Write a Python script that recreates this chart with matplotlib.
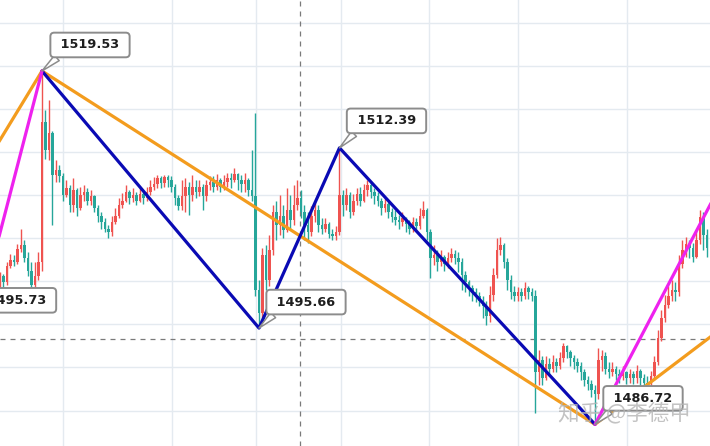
import numpy as np
import matplotlib
matplotlib.use("Agg")
import matplotlib.pyplot as plt

# candle data (red = up, teal = down), one bar per index
first_open = 1499.8
closes = [
    1500.5, 1499.9, 1501.4, 1502.0, 1501.8, 1503.0, 1503.4, 1502.2, 1501.0, 1499.7,
    1500.5, 1501.8, 1514.8, 1512.2, 1513.8, 1509.9, 1510.3, 1509.8, 1508.0, 1508.7,
    1507.1, 1508.5, 1506.8, 1508.0, 1508.3, 1507.5, 1507.9, 1506.8, 1506.1, 1505.5,
    1504.9, 1504.6, 1505.5, 1506.1, 1507.1, 1507.5, 1508.3, 1507.7, 1508.0, 1507.5,
    1508.1, 1507.7, 1508.3, 1508.8, 1509.0, 1509.6, 1509.1, 1509.7, 1509.4, 1508.8,
    1507.7, 1507.0, 1507.9, 1508.8, 1508.0, 1508.8, 1508.3, 1508.8, 1507.9, 1508.9,
    1509.2, 1508.8, 1509.4, 1508.8, 1509.2, 1509.6, 1509.4, 1510.0, 1509.4, 1509.0,
    1509.4, 1508.5, 1507.9, 1499.2, 1497.1, 1502.4, 1500.1, 1502.9, 1506.4, 1505.2,
    1506.1, 1504.8, 1506.6, 1505.7, 1507.1, 1507.7, 1506.4, 1505.2, 1504.6, 1506.1,
    1506.6, 1505.2, 1504.9, 1505.3, 1504.4, 1504.2, 1504.6, 1508.0, 1507.1, 1508.0,
    1506.4, 1507.5, 1508.1, 1507.5, 1508.5, 1508.9, 1508.3, 1507.9, 1507.5, 1506.8,
    1507.2, 1506.4, 1506.0, 1505.7, 1505.5, 1505.9, 1505.3, 1504.9, 1505.5, 1505.1,
    1506.1, 1506.6, 1504.6, 1502.2, 1502.4, 1501.8, 1502.3, 1501.6, 1502.2, 1502.5,
    1502.2, 1501.8, 1500.6, 1499.9, 1499.4, 1499.0, 1498.6, 1498.2, 1497.7, 1496.8,
    1498.7, 1500.6, 1502.9, 1503.4, 1501.8, 1500.1, 1499.0, 1498.6, 1499.0, 1498.6,
    1499.4, 1499.0, 1498.6, 1491.6, 1492.7, 1491.0, 1492.3, 1491.9, 1492.5, 1492.1,
    1492.9, 1494.0, 1493.4, 1492.9, 1492.5, 1492.1, 1491.6, 1490.8, 1490.5, 1489.9,
    1489.5, 1492.7, 1493.1, 1491.9, 1491.6, 1491.9, 1491.4, 1491.2, 1491.6, 1491.0,
    1491.4, 1491.0, 1491.7, 1491.0, 1490.6, 1490.5, 1491.2, 1492.5, 1494.7, 1496.6,
    1497.8, 1498.6, 1499.2, 1499.0, 1501.6, 1502.9, 1503.5, 1503.1, 1502.3, 1503.8,
    1506.0, 1504.3, 1503.1,
]
highs = [
    1500.9, 1500.7, 1501.8, 1502.5, 1502.4, 1503.5, 1504.9, 1503.8, 1502.7, 1501.8,
    1501.8, 1502.7, 1519.53, 1515.9, 1516.8, 1514.0, 1511.3, 1510.8, 1510.1, 1509.4,
    1508.9, 1509.6, 1508.7, 1508.8, 1508.9, 1508.7, 1508.5, 1508.0, 1507.1, 1506.4,
    1505.9, 1505.2, 1506.1, 1506.8, 1507.7, 1508.2, 1508.9, 1508.5, 1508.7, 1508.3,
    1508.7, 1508.5, 1508.8, 1509.4, 1509.7, 1509.9, 1509.8, 1509.9, 1509.9, 1509.8,
    1509.0, 1508.0, 1509.4, 1509.6, 1509.2, 1509.9, 1509.4, 1509.4, 1509.0, 1509.4,
    1509.8, 1509.8, 1510.0, 1509.6, 1509.9, 1510.1, 1510.1, 1510.5, 1510.1, 1509.9,
    1510.1, 1509.6, 1512.2, 1515.6, 1500.1, 1503.1, 1503.4, 1504.3, 1507.1, 1507.5,
    1508.0, 1507.1, 1508.7, 1508.0, 1508.9, 1509.4, 1508.5, 1507.1, 1506.4, 1507.0,
    1507.3, 1507.1, 1505.9, 1505.9, 1505.5, 1504.9, 1505.1, 1512.39, 1508.5, 1508.7,
    1508.3, 1508.1, 1508.7, 1508.8, 1509.0, 1509.4, 1509.2, 1508.7, 1508.3, 1507.7,
    1507.7, 1507.4, 1506.8, 1506.6, 1506.2, 1506.4, 1506.0, 1505.7, 1506.0, 1505.9,
    1506.8, 1507.5, 1506.8, 1504.9, 1503.4, 1502.9, 1502.9, 1502.4, 1502.7, 1503.1,
    1502.9, 1502.7, 1502.2, 1501.0, 1500.1, 1499.7, 1499.4, 1499.0, 1498.6, 1498.2,
    1499.6, 1501.2, 1504.0, 1504.1, 1503.6, 1502.2, 1500.6, 1499.6, 1499.5, 1499.4,
    1499.9, 1499.6, 1499.4, 1499.2, 1493.6, 1493.1, 1493.1, 1492.9, 1493.2, 1492.9,
    1493.4, 1494.3, 1494.1, 1493.6, 1493.2, 1492.9, 1492.5, 1491.9, 1491.2, 1490.8,
    1490.4, 1493.8, 1493.6, 1493.4, 1492.5, 1492.5, 1492.1, 1491.9, 1492.1, 1491.7,
    1491.9, 1491.7, 1492.2, 1491.9, 1491.4, 1491.2, 1491.7, 1493.1, 1495.5, 1497.3,
    1498.7, 1499.6, 1500.1, 1499.9, 1502.4, 1503.8, 1504.1, 1503.8, 1503.6, 1504.8,
    1506.6, 1506.4, 1504.9,
]
lows = [
    1499.2, 1499.4, 1499.7, 1501.2, 1501.4, 1501.6, 1502.7, 1501.8, 1500.5, 1499.0,
    1499.0, 1500.1, 1501.0, 1511.4, 1511.3, 1505.2, 1509.2, 1509.2, 1507.5, 1507.8,
    1506.4, 1506.4, 1506.1, 1506.6, 1507.5, 1507.1, 1507.1, 1506.4, 1505.5, 1504.9,
    1504.6, 1504.0, 1504.2, 1505.3, 1505.9, 1506.8, 1507.4, 1507.2, 1507.4, 1507.1,
    1507.4, 1507.2, 1507.5, 1508.0, 1508.5, 1508.7, 1508.7, 1508.8, 1508.8, 1508.3,
    1507.1, 1506.6, 1506.6, 1506.4, 1506.2, 1507.5, 1507.7, 1507.9, 1506.6, 1507.5,
    1508.5, 1508.3, 1508.5, 1508.3, 1508.5, 1508.8, 1508.7, 1509.2, 1508.5, 1508.3,
    1508.3, 1507.9, 1507.5, 1498.6, 1495.66, 1496.6, 1499.2, 1499.6, 1502.4, 1503.8,
    1504.3, 1504.0, 1504.6, 1504.9, 1505.2, 1506.6, 1505.9, 1503.8, 1503.6, 1504.2,
    1505.5, 1504.6, 1504.4, 1504.6, 1504.0, 1503.8, 1503.8, 1504.3, 1506.1, 1506.6,
    1505.9, 1506.2, 1507.1, 1507.0, 1507.4, 1507.9, 1507.7, 1507.2, 1507.0, 1506.2,
    1506.4, 1505.9, 1505.5, 1505.2, 1504.9, 1505.1, 1504.6, 1504.4, 1504.6, 1504.8,
    1504.9, 1505.9, 1503.8, 1500.3, 1501.5, 1501.0, 1501.4, 1501.0, 1501.2, 1501.8,
    1501.6, 1500.9, 1499.2, 1499.0, 1498.6, 1498.2, 1498.1, 1497.7, 1496.6, 1495.9,
    1496.2, 1498.2, 1500.3, 1502.4, 1501.2, 1499.2, 1498.4, 1498.2, 1498.2, 1498.2,
    1498.4, 1498.4, 1498.2, 1487.8, 1490.4, 1490.4, 1490.8, 1491.2, 1491.6, 1491.6,
    1491.9, 1492.5, 1492.9, 1492.1, 1491.9, 1491.6, 1490.8, 1490.3, 1489.9, 1489.3,
    1486.72, 1489.1, 1491.7, 1491.4, 1491.0, 1491.2, 1490.8, 1490.6, 1490.8, 1490.5,
    1490.6, 1490.5, 1490.6, 1490.3, 1489.0, 1489.0, 1489.9, 1490.8, 1492.2, 1494.5,
    1496.2, 1497.5, 1498.2, 1498.2, 1498.6, 1501.2, 1502.3, 1502.2, 1501.8, 1502.2,
    1503.5, 1502.9, 1502.3,
]

# zigzag pivots (bar index, price); some lie just outside the visible window
orange_idx = [-30, 12, 170, 215]
orange_val = [1497.1, 1519.53, 1486.72, 1497.8]
blue_idx = [12, 74, 97, 170]
blue_val = [1519.53, 1495.66, 1512.39, 1486.72]
magenta_left_idx = [-7, 12]
magenta_left_val = [1495.73, 1519.53]
magenta_right_idx = [170, 210]
magenta_right_val = [1486.72, 1511.5]

label_idx = [-7, 12, 74, 97, 170]
label_val = [1495.73, 1519.53, 1495.66, 1512.39, 1486.72]

grid_x = [18, 49.1, 73.1, 97.4, 122.6, 148, 179.1]
grid_y = [1488, 1492, 1496, 1500, 1504, 1508, 1512, 1516, 1520, 1524]
cross_x = 85.7
cross_y = 1494.65

RED = "#ef5350"
TEAL = "#26a69a"

o = np.array([first_open] + closes[:-1])
c = np.array(closes)
h = np.maximum(np.array(highs), np.maximum(o, c))
l = np.minimum(np.array(lows), np.minimum(o, c))
x = np.arange(len(c))
cols = np.where(c >= o, RED, TEAL)

fig = plt.figure(figsize=(7.1, 4.46), dpi=100)
ax = fig.add_axes([0, 0, 1, 1])
ax.set_xlim(0, 202.86)
ax.set_ylim(1484.71, 1526.12)
for s in ax.spines.values():
    s.set_visible(False)
ax.set_xticks(grid_x)
ax.set_yticks(grid_y)
ax.tick_params(length=0, labelbottom=False, labelleft=False)
ax.grid(True, color="#e4eaf0", lw=1.0)
ax.set_axisbelow(True)

# crosshair
ax.axvline(cross_x, color="#7a7a7a", lw=0.9, ls=(0, (4, 4)), zorder=1)
ax.axhline(cross_y, color="#7a7a7a", lw=0.9, ls=(0, (4, 4)), zorder=1)

# candles
ax.vlines(x, l, h, colors=cols, lw=1.0, zorder=2)
ax.bar(x, np.maximum(np.abs(c - o), 0.1), bottom=np.minimum(o, c),
       width=0.74, color=cols, linewidth=0, zorder=3)

# zigzag lines
ax.plot(orange_idx, orange_val, color="#f39c1e", lw=2.3, zorder=4, solid_capstyle="round")
ax.plot(blue_idx, blue_val, color="#0a0ab4", lw=2.3, zorder=5, solid_capstyle="round")
ax.plot(magenta_left_idx, magenta_left_val, color="#ee22ee", lw=2.3, zorder=6, solid_capstyle="round")
ax.plot(magenta_right_idx, magenta_right_val, color="#ee22ee", lw=2.3, zorder=6, solid_capstyle="round")

# price callouts
label_offsets = [(41, 27), (48, 26), (47, 26), (47, 27), (48, 26)]
for xi, yi, (dx, dy) in zip(label_idx, label_val, label_offsets):
    ax.annotate(f" {yi:.2f} ", xy=(xi, yi), xytext=(dx, dy), textcoords="offset pixels",
                ha="center", va="center", fontsize=9.3, fontweight="bold", color="#1e1e1e",
                bbox=dict(boxstyle="round,pad=0.45,rounding_size=0.3", fc="white",
                          ec="#8c8c8c", lw=1.4),
                arrowprops=dict(arrowstyle="wedge,tail_width=0.55", fc="white", ec="#8c8c8c",
                                lw=1.1, relpos=(0.12, 0.0), shrinkA=0, shrinkB=0),
                zorder=8, annotation_clip=False)

# watermark
ax.text(0.879, 0.074, "知乎 @李德甲", transform=ax.transAxes, ha="center", va="center",
        fontsize=15.5, color="#b4b4b4", alpha=0.8, zorder=9,
        family=["Noto Sans CJK SC", "DejaVu Sans"])

fig.savefig("out.png", dpi=100)
